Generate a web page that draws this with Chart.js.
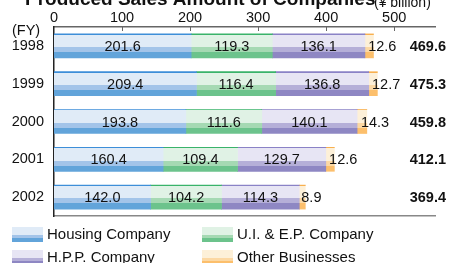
<!DOCTYPE html>
<html>
<head>
<meta charset="utf-8">
<script src="https://cdn.jsdelivr.net/npm/chart.js@4"></script>
<style>
  html, body { margin: 0; padding: 0; background: #fff; }
  #wrap { width: 449px; height: 263px; position: relative; }
</style>
</head>
<body>
<div id="wrap"><canvas id="salesChart"></canvas></div>
<script>
const years = ['1998', '1999', '2000', '2001', '2002'];
const housing = [201.6, 209.4, 193.8, 160.4, 142.0];
const uiep = [119.3, 116.4, 111.6, 109.4, 104.2];
const hpp = [136.1, 136.8, 140.1, 129.7, 114.3];
const other = [12.6, 12.7, 14.3, 12.6, 8.9];
const totals = [469.6, 475.3, 459.8, 412.1, 369.4];
const xTicks = [0, 100, 200, 300, 400, 500];

const FONT = "'Liberation Sans', Arial, Helvetica, sans-serif";
const BAR_H = 24;

// line, light, medium, dark
const palettes = [
    ['#3d8ed8', '#e0ebf7', '#a3c4e9', '#62a4da'],
    ['#39b36a', '#e0f2e5', '#a5d9b3', '#6cc38c'],
    ['#8a82c6', '#e7e5f4', '#b5afd8', '#8e87c3'],
    ['#f8b04f', '#fdf0d8', '#fcd8a3', '#fcbf6c']
];

function stripes(c2d, top, h, pal, withLine) {
    const g = c2d.createLinearGradient(0, top, 0, top + h);
    const l = withLine ? 1 / h : 0;
    if (withLine) {
        g.addColorStop(0, pal[0]);
        g.addColorStop(l, pal[0]);
    }
    g.addColorStop(l, pal[1]);
    g.addColorStop(0.55, pal[1]);
    g.addColorStop(0.55, pal[2]);
    g.addColorStop(0.76, pal[2]);
    g.addColorStop(0.76, pal[3]);
    g.addColorStop(1, pal[3]);
    return g;
}

function barFill(i) {
    return function (ctx) {
        const chart = ctx.chart;
        const y = chart.scales.y;
        if (!chart.chartArea || !y) return palettes[i][1];
        const c = y.getPixelForValue(ctx.dataIndex);
        return stripes(chart.ctx, c - BAR_H / 2, BAR_H, palettes[i], true);
    };
}

const decor = {
    id: 'decor',
    afterDraw(chart) {
        const c = chart.ctx;
        const x = chart.scales.x;
        const area = chart.chartArea;
        c.save();

        // title (clipped at the top like the original)
        c.fillStyle = '#111';
        c.textBaseline = 'alphabetic';
        c.textAlign = 'left';
        c.font = 'bold 19px ' + FONT;
        c.fillText('Produced Sales Amount of Companies', 25, 5);
        c.font = '14px ' + FONT;
        c.fillText('(\u00a5 billion)', 374, 7);

        // inward tick marks on top axis
        c.strokeStyle = '#666';
        c.lineWidth = 1;
        xTicks.slice(1).forEach(v => {
            const px = Math.round(x.getPixelForValue(v)) + 0.5;
            c.beginPath();
            c.moveTo(px, area.top);
            c.lineTo(px, area.top + 4);
            c.stroke();
        });

        c.font = '14.5px ' + FONT;
        c.fillStyle = '#111';
        c.textBaseline = 'middle';
        c.fillText('(FY)', 12, 31);

        // value labels
        chart.data.datasets.forEach((ds, di) => {
            const meta = chart.getDatasetMeta(di);
            meta.data.forEach((bar, i) => {
                const v = ds.data[i].toFixed(1);
                if (di < 3) {
                    c.textAlign = 'center';
                    c.fillText(v, (bar.x + bar.base) / 2, bar.y + 1);
                } else {
                    c.textAlign = 'left';
                    c.fillText(v, (bar.x + bar.base) / 2 - 1, bar.y + 1);
                }
            });
        });

        // totals
        c.font = 'bold 14.5px ' + FONT;
        c.textAlign = 'right';
        const m0 = chart.getDatasetMeta(0);
        totals.forEach((t, i) => {
            c.fillText(t.toFixed(1), 446, m0.data[i].y + 1);
        });

        // legend in two columns
        c.font = '15px ' + FONT;
        c.textAlign = 'left';
        c.textBaseline = 'alphabetic';
        const pos = [[12, 227], [202, 227], [12, 250], [202, 250]];
        chart.data.datasets.forEach((ds, di) => {
            const [lx, ly] = pos[di];
            c.fillStyle = stripes(c, ly, 15, palettes[di], false);
            c.fillRect(lx, ly, 31, 15);
            c.fillStyle = '#111';
            c.fillText(ds.label, lx + 35, ly + 12);
        });
        c.restore();
    }
};

new Chart(document.getElementById('salesChart'), {
    type: 'bar',
    data: {
        labels: years,
        datasets: [
            { label: 'Housing Company', data: housing, backgroundColor: barFill(0) },
            { label: 'U.I. & E.P. Company', data: uiep, backgroundColor: barFill(1) },
            { label: 'H.P.P. Company', data: hpp, backgroundColor: barFill(2) },
            { label: 'Other Businesses', data: other, backgroundColor: barFill(3) }
        ]
    },
    options: {
        indexAxis: 'y',
        responsive: true,
        maintainAspectRatio: false,
        animation: false,
        datasets: { bar: { barThickness: BAR_H, borderWidth: 0 } },
        layout: { padding: { left: 0, right: 14, top: 0, bottom: 47 } },
        plugins: {
            legend: { display: false },
            tooltip: { enabled: false }
        },
        scales: {
            x: {
                position: 'top',
                stacked: true,
                min: 0,
                max: 560,
                grid: { display: false, drawTicks: false },
                border: { display: true, color: '#666', width: 1.5 },
                ticks: {
                    stepSize: 100,
                    includeBounds: false,
                    padding: 0,
                    color: '#111',
                    font: { family: FONT, size: 14.5 }
                },
                afterFit: s => { s.height = 27; }
            },
            x2: {
                position: 'bottom',
                min: 0,
                max: 560,
                grid: { display: false, drawTicks: false },
                border: { display: true, color: '#888', width: 1.5 },
                ticks: { display: false },
                afterFit: s => { s.height = 0; }
            },
            y: {
                stacked: true,
                grid: { display: false, drawTicks: false },
                border: { display: true, color: '#222', width: 1.5 },
                ticks: {
                    padding: 10,
                    color: '#111',
                    font: { family: FONT, size: 14.5 }
                },
                afterFit: s => { s.width = 54; }
            }
        }
    },
    plugins: [decor]
});
</script>
</body>
</html>
